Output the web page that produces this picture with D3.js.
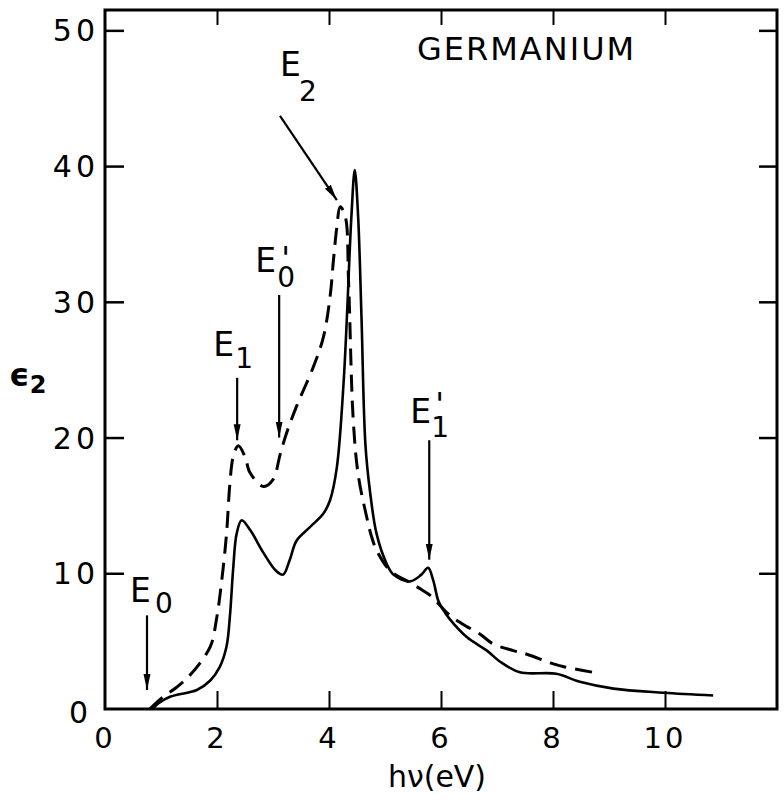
<!DOCTYPE html>
<html>
<head>
<meta charset="utf-8">
<script src="https://cdn.jsdelivr.net/npm/d3@7"></script>
<style>
	html, body { margin: 0; padding: 0; background: #fff; }
	svg { display: block; }
	text { font-family: "DejaVu Sans", sans-serif; fill: #000; }
</style>
</head>
<body>
<div id="chart"></div>
<script>
// Tick values for both axes
const xTicks = [0, 2, 4, 6, 8, 10];
const yTicks = [0, 10, 20, 30, 40, 50];

// Solid curve: photon energy (eV) and eps2
const solidEnergy = [0.85, 0.95, 1.16, 1.64, 1.88, 2.05, 2.17, 2.23, 2.29, 2.35, 2.44, 2.59, 2.83, 3.05, 3.18, 3.30, 3.42, 3.66, 3.90, 4.02, 4.14, 4.26, 4.32, 4.40, 4.46, 4.52, 4.58, 4.65, 4.73, 4.85, 5.03, 5.15, 5.45, 5.65, 5.77, 5.86, 5.95, 6.04, 6.16, 6.46, 6.82, 7.05, 7.41, 8.06, 8.48, 9.08, 9.97, 10.86];
const solidEps = [0, 0.4, 0.9, 1.4, 2.1, 3.1, 4.6, 6.8, 10.4, 12.9, 13.9, 13.2, 11.5, 10.2, 9.9, 11.0, 12.4, 13.4, 14.4, 15.4, 17.8, 24.0, 28.9, 36.3, 39.7, 36.3, 28.9, 19.5, 16.1, 12.9, 10.7, 9.9, 9.4, 9.9, 10.4, 9.5, 8.0, 7.3, 6.6, 5.3, 4.3, 3.5, 2.7, 2.6, 2.0, 1.5, 1.2, 1.0];

// Dashed curve
const dashedEnergy = [0.8, 1.04, 1.28, 1.52, 1.88, 1.99, 2.08, 2.17, 2.23, 2.29, 2.38, 2.50, 2.59, 2.83, 3.0, 3.13, 3.24, 3.42, 3.72, 3.90, 4.02, 4.08, 4.14, 4.20, 4.29, 4.35, 4.43, 4.52, 4.67, 4.76, 4.85, 5.09, 5.45, 5.65, 5.83, 6.13, 6.37, 6.70, 6.93, 7.29, 7.56, 7.95, 8.21, 8.72];
const dashedEps = [0, 0.9, 1.6, 2.5, 4.6, 6.6, 9.3, 12.9, 16.6, 18.6, 19.4, 18.6, 17.4, 16.4, 16.9, 18.8, 20.3, 22.3, 25.2, 27.4, 30.4, 33.1, 35.5, 37.0, 36.3, 31.4, 21.5, 17.3, 14.2, 12.7, 11.7, 10.2, 9.3, 8.8, 8.3, 7.0, 6.3, 5.5, 4.8, 4.3, 4.0, 3.4, 3.1, 2.7];

// Critical point annotations: name, subscript, prime mark, arrow from (x0,e0) to (x1,e1)
const markNames = ["E", "E", "E", "E", "E"];
const markSubs = ["0", "1", "0", "2", "1"];
const markPrimes = [false, false, true, false, true];
const arrowFromX = [0.75, 2.36, 3.11, 3.125, 5.79];
const arrowFromE = [6.9, 24.4, 30.5, 43.7, 19.8];
const arrowToX = [0.75, 2.36, 3.11, 4.14, 5.79];
const arrowToE = [1.4, 19.8, 20.0, 37.5, 11.0];

class GermaniumPlot {
	constructor(targetElementName) {
		this.targetElement = d3.select(`#${targetElementName}`);
		this.width = 784;
		this.height = 809;

		this.initPlot();
		this.drawFrame();
		this.drawCurves();
		this.drawAnnotations();
		this.drawLabels();
	}

	initPlot() {
		this.svg = this.targetElement.append("svg")
			.attr("width", this.width)
			.attr("height", this.height);

		// plot box in pixels
		this.box = { left: 105, right: 777, top: 10, bottom: 709 };

		this.x = d3.scaleLinear()
			.domain([0, 12])
			.range([this.box.left, this.box.right]);

		// top of the frame sits a bit above 50
		this.y = d3.scaleLinear()
			.domain([0, 51.5])
			.range([this.box.bottom, this.box.top]);

		// arrow head
		this.svg.append("defs").append("marker")
			.attr("id", "head")
			.attr("markerUnits", "userSpaceOnUse")
			.attr("viewBox", "0 -5 16 10")
			.attr("refX", 16)
			.attr("refY", 0)
			.attr("markerWidth", 16)
			.attr("markerHeight", 10)
			.attr("orient", "auto")
			.append("path")
			.attr("d", "M0,-3.5L16,0L0,3.5Z")
			.attr("fill", "#000");
	}

	drawFrame() {
		const b = this.box;
		this.svg.append("rect")
			.attr("x", b.left)
			.attr("y", b.top)
			.attr("width", b.right - b.left)
			.attr("height", b.bottom - b.top)
			.attr("fill", "none")
			.attr("stroke", "#000")
			.attr("stroke-width", 3);

		const inner = xTicks.filter(d => d > 0);

		// bottom axis: ticks point up
		this.svg.append("g")
			.attr("transform", `translate(0,${b.bottom})`)
			.call(d3.axisBottom(this.x).tickValues(inner).tickSize(-18).tickFormat(""))
			.call(g => g.select(".domain").remove())
			.selectAll("line").attr("stroke-width", 2);

		// top axis: ticks point down
		this.svg.append("g")
			.attr("transform", `translate(0,${b.top})`)
			.call(d3.axisTop(this.x).tickValues(inner).tickSize(-15).tickFormat(""))
			.call(g => g.select(".domain").remove())
			.selectAll("line").attr("stroke-width", 2);

		const yInner = yTicks.filter(d => d > 0);

		// left axis: ticks point right
		this.svg.append("g")
			.attr("transform", `translate(${b.left},0)`)
			.call(d3.axisLeft(this.y).tickValues(yInner).tickSize(-19).tickFormat(""))
			.call(g => g.select(".domain").remove())
			.selectAll("line").attr("stroke-width", 2.5);

		// right axis: ticks point left
		this.svg.append("g")
			.attr("transform", `translate(${b.right},0)`)
			.call(d3.axisRight(this.y).tickValues(yInner).tickSize(-18).tickFormat(""))
			.call(g => g.select(".domain").remove())
			.selectAll("line").attr("stroke-width", 2.5);

		// tick numbers
		this.svg.append("g")
			.selectAll("text")
			.data(xTicks)
			.enter()
			.append("text")
			.attr("x", d => this.x(d))
			.attr("y", 748)
			.attr("text-anchor", "middle")
			.attr("font-size", 29)
			.attr("letter-spacing", 3)
			.text(d => d);

		this.svg.append("g")
			.selectAll("text")
			.data(yTicks)
			.enter()
			.append("text")
			.attr("x", d => d === 0 ? 92 : 99)
			.attr("y", d => this.y(d) + (d === 0 ? 14 : 11))
			.attr("text-anchor", "end")
			.attr("font-size", 30)
			.attr("letter-spacing", 4)
			.text(d => d);
	}

	drawCurves() {
		const line = d3.line()
			.x(d => this.x(d[0]))
			.y(d => this.y(d[1]))
			.curve(d3.curveCatmullRom.alpha(0.5));

		const solid = solidEnergy.map((v, i) => [v, solidEps[i]]);
		const dashed = dashedEnergy.map((v, i) => [v, dashedEps[i]]);

		this.svg.append("path")
			.datum(dashed)
			.attr("d", line)
			.attr("fill", "none")
			.attr("stroke", "#000")
			.attr("stroke-width", 3)
			.attr("stroke-dasharray", "17,9");

		this.svg.append("path")
			.datum(solid)
			.attr("d", line)
			.attr("fill", "none")
			.attr("stroke", "#000")
			.attr("stroke-width", 2.6)
			.attr("stroke-linejoin", "round");
	}

	drawAnnotations() {
		const idx = d3.range(markNames.length);

		this.svg.append("g")
			.selectAll("line")
			.data(idx)
			.enter()
			.append("line")
			.attr("x1", i => this.x(arrowFromX[i]))
			.attr("y1", i => this.y(arrowFromE[i]))
			.attr("x2", i => this.x(arrowToX[i]))
			.attr("y2", i => this.y(arrowToE[i]))
			.attr("stroke", "#000")
			.attr("stroke-width", 2.2)
			.attr("marker-end", "url(#head)");

		// where each label sits relative to its arrow tail (pixels):
		// ex/ey = "E" baseline, sx/sy = subscript, py = prime baseline
		const pos = [
			{ ex: -17, ey: -13, sx: 25, sy: 11, py: 0 },
			{ ex: -24, ey: -22, sx: 22, sy: 12, py: 0 },
			{ ex: -24, ey: -23, sx: 22, sy: 15, py: -3 },
			{ ex: 0, ey: -40, sx: 19, sy: 25, py: 0 },
			{ ex: -19, ey: -17, sx: 21, sy: 14, py: -8 }
		];

		const labels = this.svg.append("g")
			.selectAll("text")
			.data(idx)
			.enter()
			.append("text")
			.attr("transform", i => `translate(${this.x(arrowFromX[i]) + pos[i].ex},${this.y(arrowFromE[i]) + pos[i].ey})`);

		labels.append("tspan")
			.attr("x", 0)
			.attr("y", 0)
			.attr("font-size", 33)
			.text(i => markNames[i]);

		labels.filter(i => markPrimes[i])
			.append("tspan")
			.attr("x", i => pos[i].sx + 4)
			.attr("y", i => pos[i].py)
			.attr("font-size", 32)
			.text("'");

		labels.append("tspan")
			.attr("x", i => pos[i].sx)
			.attr("y", i => pos[i].sy)
			.attr("font-size", 28)
			.text(i => markSubs[i]);
	}

	drawLabels() {
		this.svg.append("text")
			.attr("x", 417)
			.attr("y", 60)
			.attr("font-size", 32)
			.attr("letter-spacing", 2)
			.text("GERMANIUM");

		this.svg.append("text")
			.attr("x", 437)
			.attr("y", 787)
			.attr("text-anchor", "middle")
			.attr("font-size", 30)
			.text("hν(eV)");

		const yl = this.svg.append("text")
			.attr("x", 9)
			.attr("y", 386)
			.attr("font-weight", "bold");
		yl.append("tspan").attr("font-size", 32).text("ϵ");
		yl.append("tspan").attr("font-size", 24).attr("dy", 7).text("2");
	}
}

new GermaniumPlot("chart");
</script>
</body>
</html>
